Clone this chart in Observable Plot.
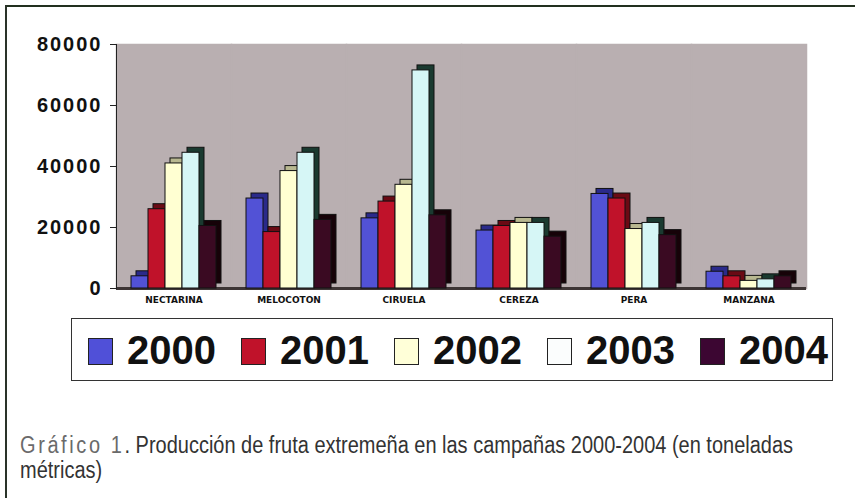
<!DOCTYPE html>
<html>
<head>
<meta charset="utf-8">
<script src="https://cdn.jsdelivr.net/npm/d3@7"></script>
<script src="https://cdn.jsdelivr.net/npm/@observablehq/plot@0.6"></script>
<style>
  html, body { margin: 0; padding: 0; background: #fff; }
  #wrap { position: relative; width: 855px; height: 498px; overflow: hidden; background: #fff; }
  #topline { position: absolute; left: 6px; top: 5px; width: 849px; height: 2px; background: #22301f; }
  #leftline { position: absolute; left: 5px; top: 5px; width: 2px; height: 493px; background: #2a3329; }
  #chart { position: absolute; left: 0; top: 0; }
  #legend { position: absolute; left: 71px; top: 318px; width: 762px; height: 63px; border: 1px solid #333;
            display: flex; align-items: center; padding-left: 16px; box-sizing: border-box; background: #fff; }
  .item { display: flex; align-items: center; margin-right: 25px; }
  .sw { width: 25px; height: 27px; border: 1px solid #222; box-sizing: border-box; margin-right: 14px; margin-top: 3px; }
  .lab { font-family: "Liberation Sans", Arial, sans-serif; font-weight: bold; font-size: 40px; color: #111; line-height: 1; }
  #caption { position: absolute; left: 20px; top: 433px; font-family: "Liberation Sans", Arial, sans-serif;
             font-size: 23px; line-height: 25px; color: #333; white-space: nowrap; transform-origin: 0 0; }
  #caption .line { display: block; }
  #caption .g { color: #6a6a6a; letter-spacing: 3px; }
</style>
</head>
<body>
<div id="wrap">
  <div id="topline"></div>
  <div id="leftline"></div>
  <div id="chart"></div>
  <div id="legend"></div>
  <div id="caption"><span class="line" id="cap1"><span class="g">Gráfico 1</span>. Producción de fruta extremeña en las campañas 2000-2004 (en toneladas</span><span class="line">métricas)</span></div>
</div>
<script>
const categories = ["NECTARINA", "MELOCOTON", "CIRUELA", "CEREZA", "PERA", "MANZANA"];
const years = ["2000", "2001", "2002", "2003", "2004"];
const v2000 = [4000, 29500, 23000, 19000, 31000, 5500];
const v2001 = [26000, 18500, 28500, 20500, 29500, 4000];
const v2002 = [41000, 38500, 34000, 21500, 19500, 2500];
const v2003 = [44500, 44500, 71500, 21500, 21500, 3000];
const v2004 = [20500, 22500, 24000, 17000, 17500, 4000];
const yTicks = [0, 20000, 40000, 60000, 80000];

const series = [v2000, v2001, v2002, v2003, v2004];
const colors = ["#5252d6", "#c0122a", "#ffffd2", "#d6f6f6", "#3a0a22"];
const legendColors = ["#5050d8", "#c0122a", "#ffffd8", "#fbfdfd", "#3c0632"];
const shades = ["#2a2a8a", "#6a0a14", "#b8b890", "#1a3a30", "#160208"];

const rows = categories.flatMap((c, i) => years.map((y, j) => ({cat: c, year: y, value: series[j][i]})));
const shadeOf = Object.fromEntries(years.map((y, j) => [y, shades[j]]));
const bg = "#b9afb1";

const plot = Plot.plot({
  width: 855,
  height: 310,
  marginLeft: 114,
  marginRight: 47,
  marginTop: 44,
  marginBottom: 22,
  style: {background: "transparent", fontFamily: "Liberation Sans, Arial, sans-serif", overflow: "visible"},
  fx: {domain: categories, padding: 0, label: null},
  x: {domain: years, paddingInner: 0, paddingOuter: 0.7, axis: null},
  y: {domain: [0, 80000], label: null, axis: null},
  color: {domain: years, range: colors},
  marks: [
    Plot.frame({fill: bg, stroke: bg, strokeWidth: 1.5}),
    Plot.ruleY([0], {stroke: "#3d3535", strokeWidth: 3}),
    Plot.barY(rows, {fx: "cat", x: "year", y: "value", fill: d => shadeOf[d.year], stroke: "#111", strokeWidth: 1, dx: 5, dy: -5}),
    Plot.barY(rows, {fx: "cat", x: "year", y: "value", fill: "year", stroke: "#111", strokeWidth: 1}),
    Plot.frame({anchor: "left", stroke: "#222", facetAnchor: "left"}),
    Plot.axisY({ticks: yTicks, tickFormat: d => String(d), tickSize: 6, tickPadding: 8, fontSize: 20, fontWeight: "bold", label: null, stroke: "#222", fill: "#111"}),
    Plot.axisFx({anchor: "bottom", tickSize: 0, tickPadding: 8, fontSize: 9, fontWeight: "bold", fontFamily: "DejaVu Sans, sans-serif", label: null, fill: "#111"})
  ]
});
plot.querySelectorAll('[aria-label="y-axis tick label"] text').forEach(t => t.setAttribute("letter-spacing", "2"));
document.getElementById("chart").appendChild(plot);

const legend = document.getElementById("legend");
years.forEach((y, j) => {
  const it = document.createElement("div");
  it.className = "item";
  const sw = document.createElement("div");
  sw.className = "sw";
  sw.style.background = legendColors[j];
  const lab = document.createElement("span");
  lab.className = "lab";
  lab.textContent = y;
  it.appendChild(sw);
  it.appendChild(lab);
  legend.appendChild(it);
});

// condense caption to the reference's narrow face
const cap = document.getElementById("caption");
const cap1 = document.getElementById("cap1");
const w = cap1.getBoundingClientRect().width;
cap.style.transform = `scaleX(${773 / w})`;
</script>
</body>
</html>
